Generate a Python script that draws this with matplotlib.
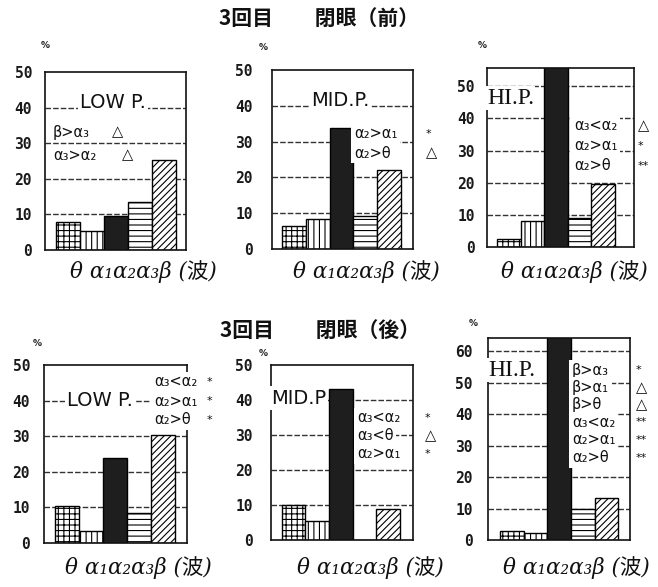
import numpy as np
import matplotlib
matplotlib.use('Agg')
import matplotlib.pyplot as plt

plt.rcParams['hatch.linewidth'] = 0.8

# ---------------- data ----------------
categories = ['θ', 'α1', 'α2', 'α3', 'β']
pre_low = [7.8, 5.3, 9.6, 13.4, 25.4]
pre_mid = [6.5, 8.4, 33.7, 9.3, 22.1]
pre_hi = [2.6, 8.0, 57.0, 8.9, 19.5]
post_low = [10.3, 3.3, 24.0, 8.4, 30.4]
post_mid = [10.0, 5.5, 43.1, 0.0, 8.8]
post_hi = [3.0, 2.3, 65.0, 9.8, 13.3]

ticks_50 = [0, 10, 20, 30, 40, 50]
ticks_60 = [0, 10, 20, 30, 40, 50, 60]

title_pre = '3回目　　閉眼（前）'
title_post = '3回目　　閉眼（後）'
xlabel_text = 'θ α₁α₂α₃β (波)'

ann_pre_low = [('β>α₃', '△'), ('α₃>α₂', '△')]
ann_pre_mid = [('α₂>α₁', '*'), ('α₂>θ', '△')]
ann_pre_hi = [('α₃<α₂', '△'), ('α₂>α₁', '*'), ('α₂>θ', '**')]
ann_post_low = [('α₃<α₂', '*'), ('α₂>α₁', '*'), ('α₂>θ', '*')]
ann_post_mid = [('α₃<α₂', '*'), ('α₃<θ', '△'), ('α₂>α₁', '*')]
ann_post_hi = [('β>α₃', '*'), ('β>α₁', '△'), ('β>θ', '△'),
               ('α₃<α₂', '**'), ('α₂>α₁', '**'), ('α₂>θ', '**')]

# ---------------- layout ----------------
W, H = 658, 587
fig = plt.figure(figsize=(W / 100, H / 100), dpi=100)
fig.patch.set_facecolor('white')


def rect(l, t, r, b):
    return [l / W, 1 - b / H, (r - l) / W, (b - t) / H]


def fx(x):
    return x / W


def fy(y):
    return 1 - y / H


hatches = ['+++', '|||', '', '---', '/////']
faces = ['white', 'white', '#1e1e1e', 'white', 'white']

panels = [
    dict(vals=pre_low, box=(45, 72, 186, 250), ylim=50, ticks=ticks_50, xlim=(-0.95, 4.9),
         tick_right=32,
         name='LOW P.', name_pos=(113, 102), name_ha='center', serif=False,
         ann=ann_pre_low, ann_x=53, ann_y=132, ann_dy=23, mark_x=[112, 122],
         pct=(45, 45), xl=(143, 272)),
    dict(vals=pre_mid, box=(272, 70, 413, 249), ylim=50, ticks=ticks_50, xlim=(-0.92, 5.0),
         tick_right=253,
         name='MID.P.', name_pos=(340, 100), name_ha='center', serif=False,
         ann=ann_pre_mid, ann_x=354, ann_y=134, ann_dy=19, mark_x=[426, 426],
         pct=(263, 47), xl=(366, 272)),
    dict(vals=pre_hi, box=(487, 68, 634, 247), ylim=55.7, ticks=ticks_50, xlim=(-0.92, 5.3),
         tick_right=475,
         name='HI.P.', name_pos=(487, 98), name_ha='left', serif=True,
         ann=ann_pre_hi, ann_x=574, ann_y=126, ann_dy=20, mark_x=[638, 638, 638],
         pct=(482, 45), xl=(574, 272)),
    dict(vals=post_low, box=(44, 365, 187, 543), ylim=50, ticks=ticks_50, xlim=(-0.96, 5.0),
         tick_right=30,
         name='LOW P.', name_pos=(100, 400), name_ha='center', serif=False,
         ann=ann_post_low, ann_x=154, ann_y=382, ann_dy=19, mark_x=[207, 207, 207],
         pct=(37, 343), xl=(138, 568)),
    dict(vals=post_mid, box=(271, 365, 413, 540), ylim=50, ticks=ticks_50, xlim=(-0.96, 5.05),
         tick_right=253,
         name='MID.P', name_pos=(271, 398), name_ha='left', serif=False,
         ann=ann_post_mid, ann_x=357, ann_y=418, ann_dy=18, mark_x=[425, 425, 425],
         pct=(263, 353), xl=(370, 568)),
    dict(vals=post_hi, box=(488, 338, 630, 540), ylim=64.2, ticks=ticks_60, xlim=(-1.0, 5.0),
         tick_right=473,
         name='HI.P.', name_pos=(488, 370), name_ha='left', serif=True,
         ann=ann_post_hi, ann_x=572, ann_y=370, ann_dy=17.5, mark_x=[636] * 6,
         pct=(473, 323), xl=(576, 568)),
]

x = np.arange(len(categories))
for p in panels:
    ax = fig.add_axes(rect(*p['box']))
    ax.set_axisbelow(True)
    for i, v in enumerate(p['vals']):
        ax.bar(x[i], v, width=1.0, color=faces[i], edgecolor='black',
               linewidth=1.0, hatch=hatches[i])
    ax.set_xlim(*p['xlim'])
    ax.set_ylim(0, p['ylim'])
    ax.set_yticks(p['ticks'])
    ax.set_yticklabels([str(t) for t in p['ticks']], family='DejaVu Sans Mono',
                       fontsize=10.5, fontweight='bold', color='#1a1a1a')
    pad_pt = (p['box'][0] - p['tick_right']) * 0.72
    ax.tick_params(axis='y', length=0, pad=pad_pt)
    ax.set_xticks([])
    for t in p['ticks'][1:]:
        if t < p['ylim'] - 0.5:
            ax.axhline(t, color='#333333', lw=1.0, ls=(0, (4, 1.5)), zorder=0.5)
    for s in ax.spines.values():
        s.set_linewidth(1.2)
        s.set_color('#111111')

    # panel name
    nx, ny = p['name_pos']
    if p['serif']:
        fig.text(fx(nx), fy(ny), p['name'], ha=p['name_ha'], va='center',
                 family='Liberation Serif', fontsize=17, color='#111111',
                 bbox=dict(facecolor='white', edgecolor='none', pad=1.0))
    else:
        fig.text(fx(nx), fy(ny), p['name'], ha=p['name_ha'], va='center',
                 family='DejaVu Sans', fontsize=14, color='#111111',
                 bbox=dict(facecolor='white', edgecolor='none', pad=1.5))

    # significance annotations
    for k, (lab, mk) in enumerate(p['ann']):
        yy = p['ann_y'] + k * p['ann_dy']
        fig.text(fx(p['ann_x']), fy(yy), lab, ha='left', va='center',
                 family='DejaVu Sans', fontsize=10.5, color='#111111',
                 bbox=dict(facecolor='white', edgecolor='none', pad=2.0))
        fig.text(fx(p['mark_x'][k]), fy(yy), mk, ha='left', va='center',
                 family='DejaVu Sans', fontsize=10.5 if mk == '△' else 8,
                 color='#111111',
                 bbox=dict(facecolor='white', edgecolor='none', pad=2.0))

    # percent sign
    fig.text(fx(p['pct'][0]), fy(p['pct'][1]), '%', ha='center', va='center',
             fontsize=6.5, fontweight='bold', color='#222222')

    # x label
    fig.text(fx(p['xl'][0]), fy(p['xl'][1]), xlabel_text, ha='center', va='center',
             family=['DejaVu Serif', 'Noto Sans CJK JP'], style='italic',
             fontsize=15.5, color='#111111')

fig.text(fx(319), fy(18), title_pre, ha='center', va='center',
         family=['Noto Sans CJK JP', 'DejaVu Sans'], fontsize=15, fontweight='bold',
         color='#111111')
fig.text(fx(320), fy(330), title_post, ha='center', va='center',
         family=['Noto Sans CJK JP', 'DejaVu Sans'], fontsize=15, fontweight='bold',
         color='#111111')

fig.savefig('out.png', dpi=100, facecolor='white')
